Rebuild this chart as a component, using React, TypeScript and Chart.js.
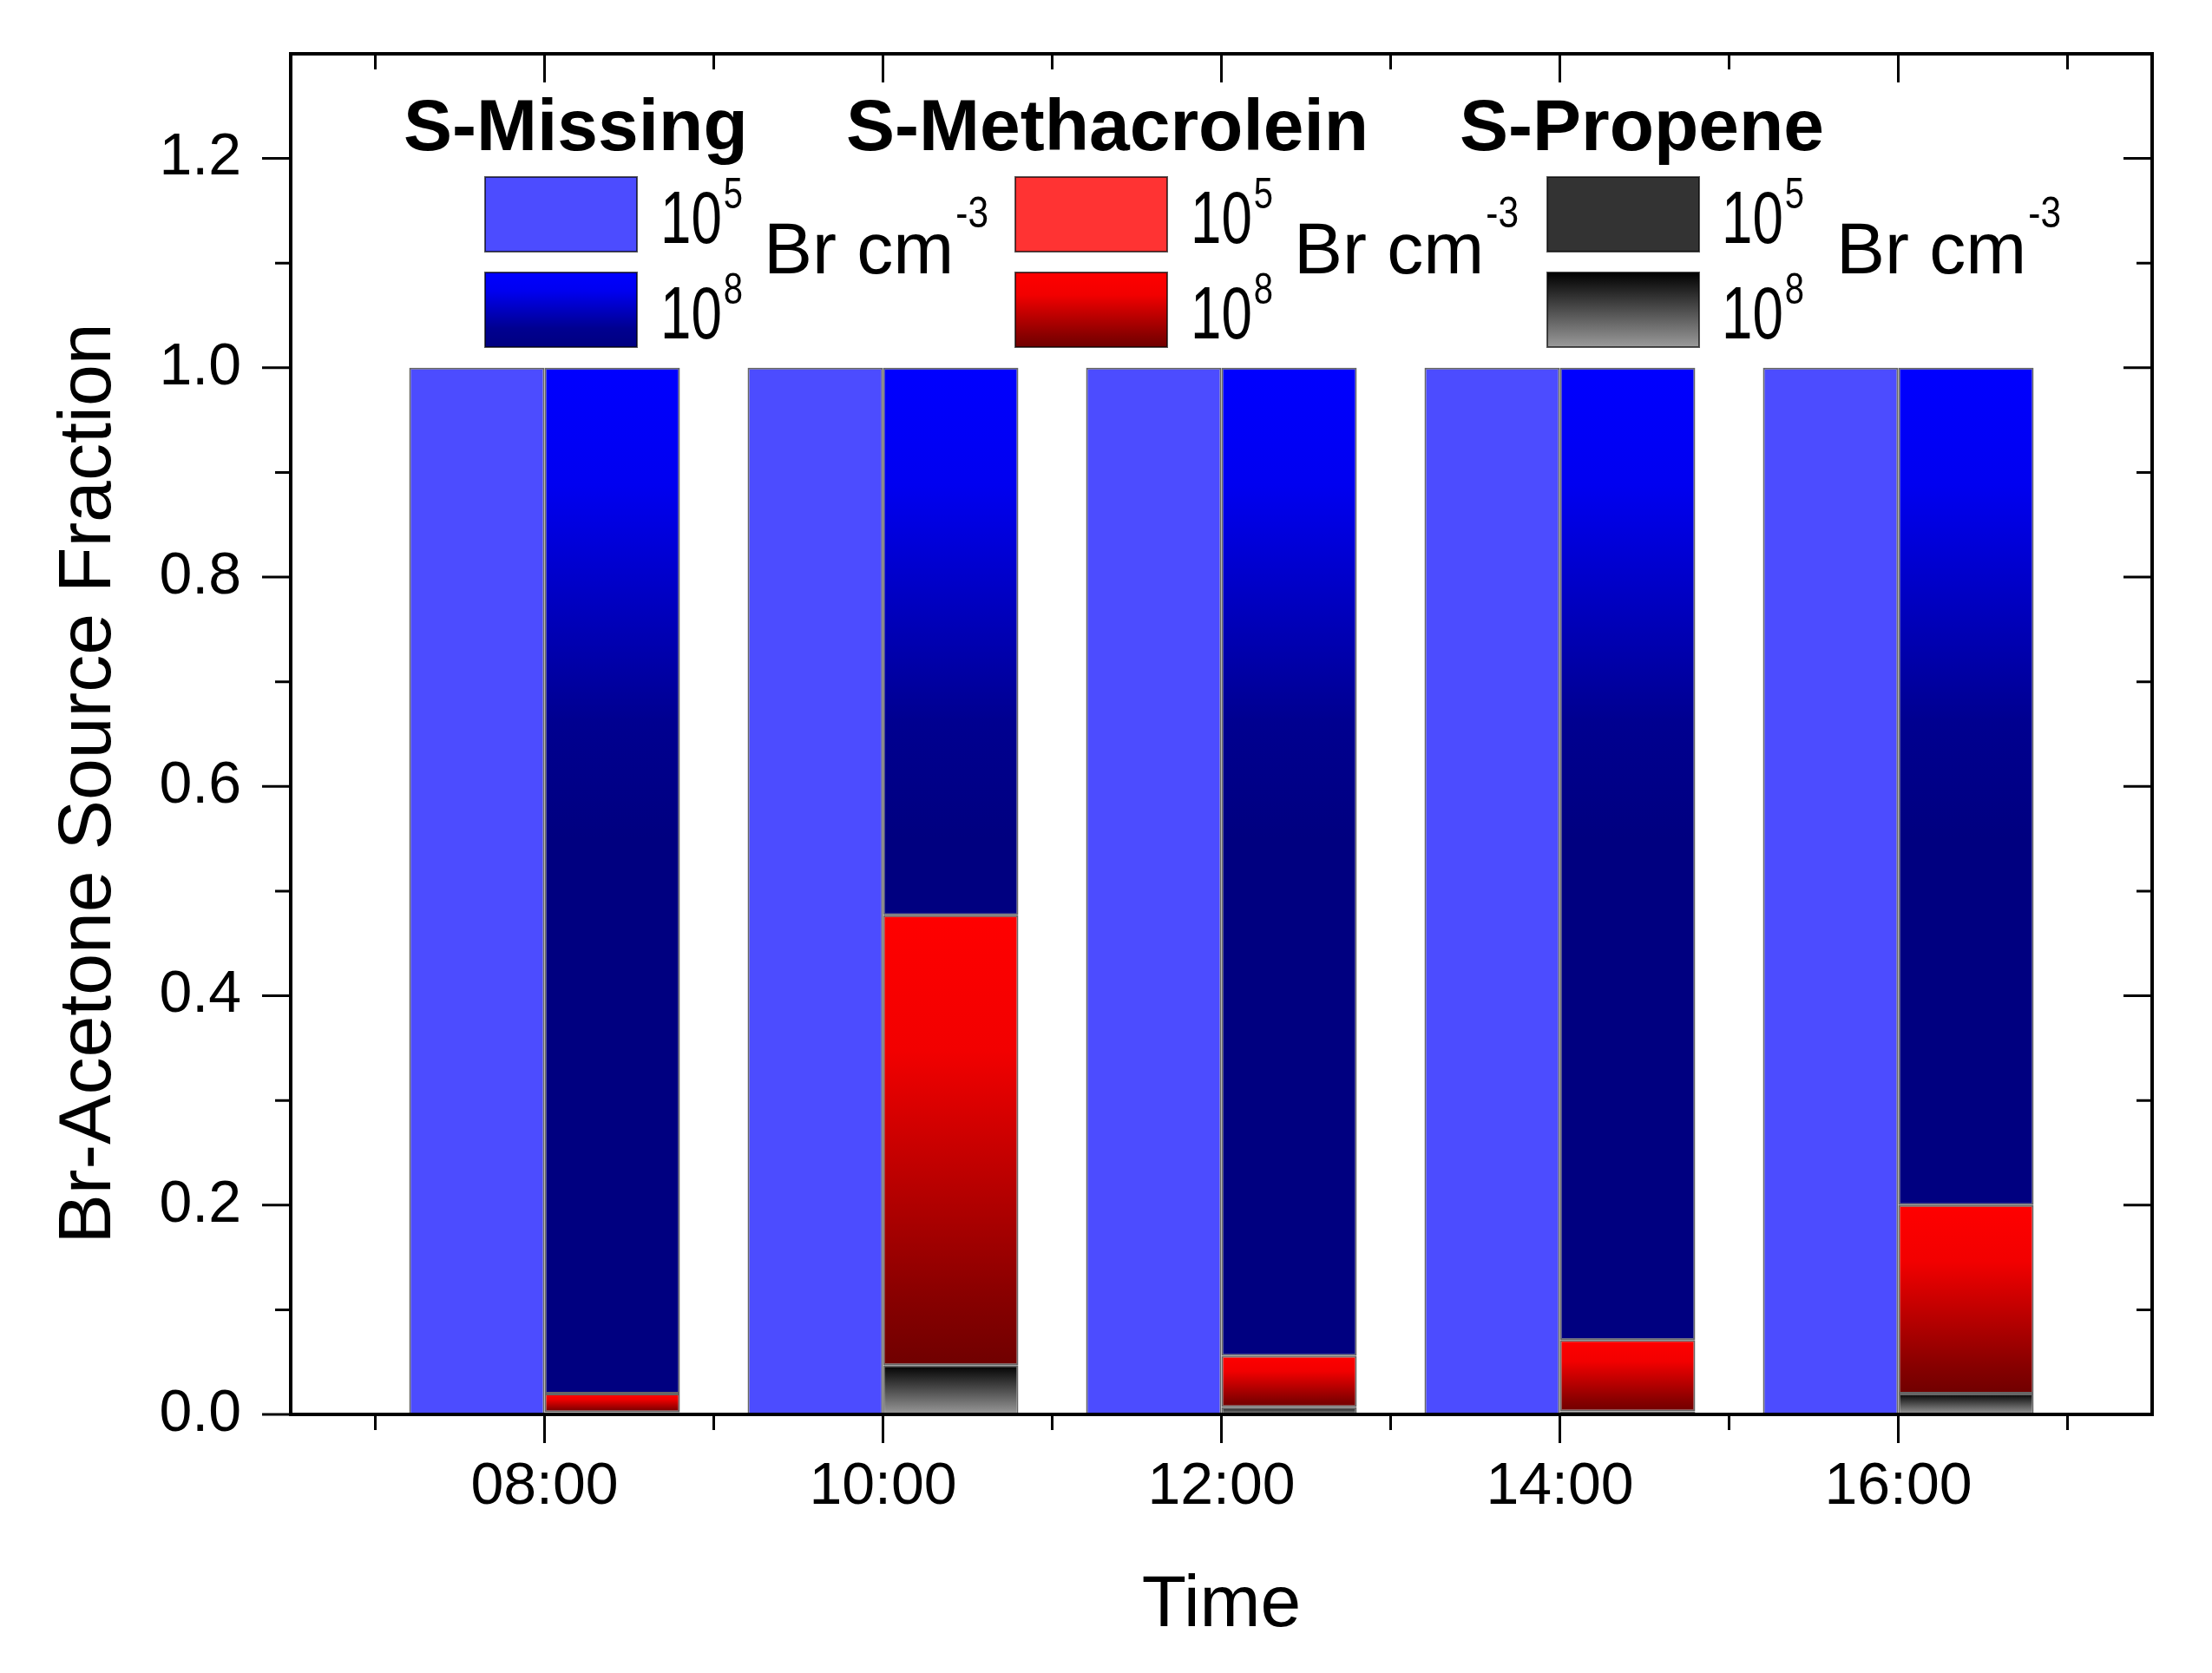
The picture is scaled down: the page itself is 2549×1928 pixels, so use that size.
import React, { useEffect, useRef } from 'react';
import { Chart, registerables } from 'chart.js';
import type { Plugin, ScriptableContext } from 'chart.js';

Chart.register(...registerables);

// time axis (hours of day)
const hours = [8, 10, 12, 14, 16];
const timeLabels = ['08:00', '10:00', '12:00', '14:00', '16:00'];
const yMajorTicks = [0, 0.2, 0.4, 0.6, 0.8, 1.0, 1.2];

// 10^5 Br cm-3 run
const missingLow = [1.0, 1.0, 1.0, 1.0, 1.0];
const methacroleinLow = [0, 0, 0, 0, 0];
const propeneLow = [0, 0, 0, 0, 0];

// 10^8 Br cm-3 run
const missingHigh = [0.98, 0.523, 0.944, 0.929, 0.8];
const methacroleinHigh = [0.018, 0.43, 0.049, 0.068, 0.18];
const propeneHigh = [0.002, 0.047, 0.007, 0.003, 0.02];

const FONT = '"Liberation Sans", Arial, sans-serif';

type Stop = [number, string];
type Series = {
  name: string;
  exp: string;
  stack: 'low' | 'high';
  data: number[];
  color: string;
  stops?: Stop[];
  span?: number; // gradient depth in data units (undefined = whole segment)
};

const blueStops: Stop[] = [
  [0, '#0000ff'],
  [0.25, '#0000f0'],
  [0.75, '#000090'],
  [1, '#000080'],
];
const redStops: Stop[] = [
  [0, '#ff0000'],
  [0.3, '#f20000'],
  [0.85, '#880000'],
  [1, '#700000'],
];
const greyStops: Stop[] = [
  [0, '#000000'],
  [1, '#9a9a9a'],
];

// bottom of each stack first
const series: Series[] = [
  { name: 'S-Propene', exp: '5', stack: 'low', data: propeneLow, color: '#333333' },
  { name: 'S-Propene', exp: '8', stack: 'high', data: propeneHigh, color: '#000000', stops: greyStops },
  { name: 'S-Methacrolein', exp: '5', stack: 'low', data: methacroleinLow, color: '#ff3333' },
  { name: 'S-Methacrolein', exp: '8', stack: 'high', data: methacroleinHigh, color: '#ff0000', stops: redStops },
  { name: 'S-Missing', exp: '5', stack: 'low', data: missingLow, color: '#4c4cff' },
  { name: 'S-Missing', exp: '8', stack: 'high', data: missingHigh, color: '#0000ff', stops: blueStops, span: 0.45 },
];

const legendGroups = [
  { title: 'S-Missing', low: 4, high: 5, titleX: 465, boxX: 559, numX: 761, unitX: 880 },
  { title: 'S-Methacrolein', low: 2, high: 3, titleX: 975, boxX: 1170, numX: 1372, unitX: 1491 },
  { title: 'S-Propene', low: 0, high: 1, titleX: 1682, boxX: 1783, numX: 1984, unitX: 2116 },
];

function stackBase(k: number, i: number): number {
  let b = 0;
  for (let j = 0; j < k; j++) if (series[j].stack === series[k].stack) b += series[j].data[i];
  return b;
}

function makeGradient(ctx: CanvasRenderingContext2D, top: number, bottom: number, stops: Stop[]) {
  const g = ctx.createLinearGradient(0, top, 0, bottom);
  stops.forEach(([o, c]) => g.addColorStop(o, c));
  return g;
}

function drawText(
  ctx: CanvasRenderingContext2D,
  s: string,
  x: number,
  y: number,
  size: number,
  bold = false,
  sx = 1,
): number {
  ctx.save();
  ctx.font = `${bold ? 'bold ' : ''}${size}px ${FONT}`;
  ctx.textAlign = 'left';
  ctx.textBaseline = 'alphabetic';
  ctx.translate(x, y);
  ctx.scale(sx, 1);
  ctx.fillText(s, 0, 0);
  const w = ctx.measureText(s).width * sx;
  ctx.restore();
  return w;
}

const framePlugin: Plugin<'bar'> = {
  id: 'originFrame',
  afterDraw(chart) {
    const { ctx, chartArea: a } = chart;
    const xs = chart.scales.x;
    const ys = chart.scales.y;
    const MAJOR = 33;
    const MINOR = 18;
    ctx.save();
    ctx.strokeStyle = '#000';
    ctx.fillStyle = '#000';
    ctx.lineWidth = 3;
    const vTick = (px: number, len: number) => {
      ctx.beginPath();
      ctx.moveTo(px, a.bottom);
      ctx.lineTo(px, a.bottom + len);
      ctx.moveTo(px, a.top);
      ctx.lineTo(px, a.top + len);
      ctx.stroke();
    };
    const hTick = (py: number, len: number) => {
      ctx.beginPath();
      ctx.moveTo(a.left - len, py);
      ctx.lineTo(a.left, py);
      ctx.moveTo(a.right, py);
      ctx.lineTo(a.right - len, py);
      ctx.stroke();
    };
    xs.ticks.forEach((t) => vTick(xs.getPixelForValue(t.value), MAJOR));
    const minorHours = new Set<number>();
    hours.forEach((h) => {
      minorHours.add(h - 1);
      minorHours.add(h + 1);
    });
    minorHours.forEach((h) => {
      if (h > xs.min && h < xs.max) vTick(xs.getPixelForValue(h), MINOR);
    });
    ys.ticks.forEach((t) => hTick(ys.getPixelForValue(t.value), MAJOR));
    for (let i = 0; i < yMajorTicks.length - 1; i++) {
      hTick(ys.getPixelForValue((yMajorTicks[i] + yMajorTicks[i + 1]) / 2), MINOR);
    }

    ctx.lineWidth = 4;
    ctx.strokeRect(a.left, a.top, a.right - a.left, a.bottom - a.top);

    // axis titles
    ctx.font = `84px ${FONT}`;
    ctx.textAlign = 'center';
    ctx.textBaseline = 'alphabetic';
    ctx.fillText('Time', (a.left + a.right) / 2, 1874);
    ctx.save();
    ctx.translate(127, 903);
    ctx.rotate(-Math.PI / 2);
    ctx.font = `86px ${FONT}`;
    ctx.fillText('Br-Acetone Source Fraction', 0, 0);
    ctx.restore();

    // legend
    const boxW = 175;
    const boxH = 86;
    const rows = [204, 314];
    legendGroups.forEach((g) => {
      drawText(ctx, g.title, g.titleX, 173, 84, true);
      [g.low, g.high].forEach((k, r) => {
        const s = series[k];
        const top = rows[r];
        ctx.fillStyle = s.stops ? makeGradient(ctx, top, top + boxH, s.stops) : s.color;
        ctx.fillRect(g.boxX, top, boxW, boxH);
        ctx.lineWidth = 2;
        ctx.strokeStyle = 'rgba(0,0,0,0.65)';
        ctx.strokeRect(g.boxX, top, boxW, boxH);
        ctx.fillStyle = '#000';
        const base = top + 76;
        const w = drawText(ctx, '10', g.numX, base, 86, false, 0.74);
        drawText(ctx, s.exp, g.numX + w + 2, base - 40, 50, false, 0.8);
      });
      const uw = drawText(ctx, 'Br cm', g.unitX, 315, 84);
      drawText(ctx, '-3', g.unitX + uw + 2, 262, 50, false, 0.85);
    });
    ctx.restore();
  },
};

export default function App(): React.JSX.Element {
  const canvasRef = useRef<HTMLCanvasElement | null>(null);

  useEffect(() => {
    if (!canvasRef.current) return;
    const datasets = series.map((s, k) => ({
      label: `${s.name} 10^${s.exp} Br cm-3`,
      stack: s.stack,
      data: s.data.map((v, i) => ({ x: hours[i], y: v })),
      borderColor: 'rgba(0,0,0,0.6)',
      borderWidth: 2,
      borderSkipped: false,
      barPercentage: 1.0,
      categoryPercentage: 0.8,
      backgroundColor: (c: ScriptableContext<'bar'>) => {
        if (!s.stops) return s.color;
        const chart = c.chart;
        const ys = chart.scales.y;
        if (c.type !== 'data' || !chart.chartArea || !ys) return s.color;
        const b = stackBase(k, c.dataIndex);
        const end = b + s.data[c.dataIndex];
        const low = s.span ? Math.max(b, end - s.span) : b;
        const top = ys.getPixelForValue(end);
        const bottom = ys.getPixelForValue(low);
        if (!(bottom > top)) return s.color;
        return makeGradient(chart.ctx, top, bottom, s.stops);
      },
    }));

    const chart = new Chart(canvasRef.current, {
      type: 'bar',
      data: { datasets },
      options: {
        animation: false,
        responsive: true,
        maintainAspectRatio: false,
        devicePixelRatio: 1,
        layout: { padding: { top: 62, right: 69, left: 0, bottom: 0 } },
        plugins: { legend: { display: false }, tooltip: { enabled: false } },
        scales: {
          x: {
            type: 'linear',
            stacked: true,
            offset: false,
            min: 6.5,
            max: 17.5,
            grid: { display: false, drawTicks: false, offset: false },
            border: { display: false },
            afterBuildTicks: (s: any) => {
              s.ticks = hours.map((v) => ({ value: v }));
            },
            afterFit: (s: any) => {
              s.height = 298;
              s.paddingLeft = 0;
              s.paddingRight = 0;
            },
            ticks: {
              autoSkip: false,
              maxRotation: 0,
              padding: 43,
              color: '#000',
              font: { family: FONT, size: 68 },
              callback: (v: any) => timeLabels[hours.indexOf(Number(v))] ?? '',
            },
          },
          y: {
            type: 'linear',
            stacked: true,
            min: 0,
            max: 1.3,
            grid: { display: false, drawTicks: false },
            border: { display: false },
            afterBuildTicks: (s: any) => {
              s.ticks = yMajorTicks.map((v) => ({ value: v }));
            },
            afterFit: (s: any) => {
              s.width = 335;
              s.paddingTop = 0;
              s.paddingBottom = 0;
            },
            ticks: {
              autoSkip: false,
              padding: 57,
              color: '#000',
              font: { family: FONT, size: 68 },
              callback: (v: any) => Number(v).toFixed(1),
            },
          },
        },
      },
      plugins: [framePlugin],
    } as any);
    return () => chart.destroy();
  }, []);

  return (
    <div style={{ position: 'absolute', left: 0, top: 0, width: 2549, height: 1928, background: '#fff' }}>
      <canvas ref={canvasRef} />
    </div>
  );
}
